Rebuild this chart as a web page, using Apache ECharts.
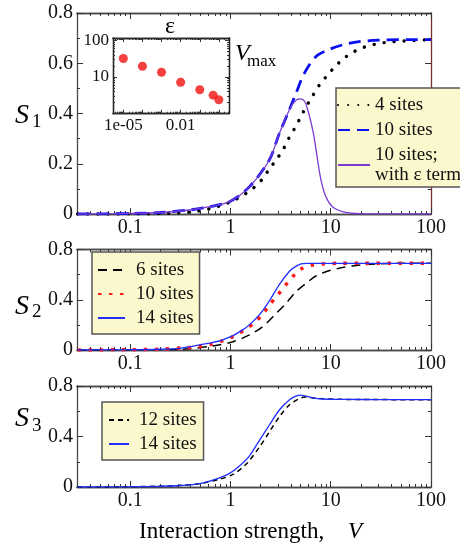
<!DOCTYPE html>
<html><head><meta charset="utf-8">
<script src="https://cdn.jsdelivr.net/npm/echarts@6/dist/echarts.min.js"></script>
<style>html,body{margin:0;padding:0;background:#fff}#c{width:460px;height:550px}</style>
</head><body><div id="c"></div>
<script>
// ---------- tick labels ----------
const xTickValues = [0.1, 1, 10, 100];
const xTickLabels = ['0.1', '1', '10', '100'];
const insetXTickValues = [1e-5, 1e-2];
const insetXTickLabels = ['1e-05', '0.01'];
const insetYTickValues = [10, 100];
const insetYTickLabels = ['10', '100'];

// ---------- panel 1 (S1) ----------
const p1Sites4V = [0.03,0.1,0.2,0.3,0.49,0.64,0.84,1.1,1.38,1.71,2.07,2.44,2.89,3.4,3.86,4.43,5.05,5.74,6.6,7.7,9.3,11,13.3,16.7,21.6,28,37,49,64,85,100];
const p1Sites4S = [0,0.0005,0.002,0.005,0.012,0.022,0.036,0.056,0.078,0.105,0.138,0.179,0.218,0.261,0.305,0.345,0.388,0.43,0.47,0.513,0.553,0.586,0.617,0.644,0.664,0.676,0.684,0.688,0.69,0.693,0.693];
const p1Sites10V = [0.03,0.1,0.2,0.39,0.6,0.98,1.55,2.44,3.07,3.86,4.5,5.45,7.1,9.7,13.1,19.2,30,50,100];
const p1Sites10S = [0,0.002,0.006,0.016,0.028,0.049,0.109,0.215,0.32,0.414,0.48,0.56,0.626,0.655,0.673,0.686,0.692,0.694,0.694];
const p1EpsV = [0.03,0.1,0.2,0.39,0.6,0.98,1.55,2.44,3.07,3.86,4.3,4.86,5.45,5.9,6.4,6.8,7.4,8.0,8.95,10.4,13.1,16,20,100];
const p1EpsS = [0,0.002,0.006,0.016,0.028,0.049,0.109,0.215,0.32,0.414,0.445,0.458,0.45,0.414,0.36,0.31,0.215,0.135,0.069,0.029,0.009,0.003,0.001,0];

// ---------- panel 2 (S2) ----------
const p2Sites6V = [0.03,0.1,0.2,0.36,0.67,1.06,1.55,2.1,2.85,3.59,4.5,5.66,7.1,8.95,12.1,16.5,22,30,50,100];
const p2Sites6S = [0,0.001,0.003,0.008,0.032,0.066,0.12,0.186,0.29,0.372,0.464,0.53,0.589,0.623,0.65,0.669,0.68,0.686,0.69,0.69];
const p2Sites10V = [0.03,0.1,0.2,0.36,0.49,0.64,0.84,1.08,1.38,1.73,2.1,2.48,2.96,3.53,4.24,5.16,6.6,8.7,12,20,50,100];
const p2Sites10S = [0,0.002,0.006,0.018,0.027,0.045,0.074,0.11,0.16,0.217,0.287,0.364,0.438,0.515,0.589,0.648,0.677,0.687,0.69,0.69,0.69,0.69];
const p2Sites14V = [0.03,0.1,0.2,0.31,0.49,0.84,1.33,1.94,2.44,3.07,3.86,4.4,5.05,5.7,7,10,100];
const p2Sites14S = [0,0.002,0.006,0.013,0.04,0.08,0.16,0.28,0.39,0.52,0.625,0.662,0.686,0.69,0.69,0.69,0.69];

// ---------- panel 3 (S3) ----------
const p3Sites12V = [0.03,0.1,0.2,0.31,0.49,0.78,1.06,1.43,1.94,2.44,3.07,3.86,4.86,5.5,6.1,8,12,20,50,100];
const p3Sites12S = [0,0.002,0.006,0.012,0.026,0.062,0.1,0.18,0.315,0.435,0.556,0.65,0.7,0.712,0.71,0.7,0.695,0.693,0.692,0.692];
const p3Sites14V = [0.03,0.1,0.2,0.31,0.49,0.78,0.98,1.23,1.55,1.94,2.44,3.07,3.86,4.5,5.05,6.6,8.3,12,20,50,100];
const p3Sites14S = [0,0.002,0.006,0.012,0.027,0.073,0.108,0.167,0.247,0.368,0.489,0.61,0.69,0.72,0.728,0.706,0.697,0.694,0.693,0.692,0.692];

// ---------- inset (Vmax vs epsilon) ----------
const insetEps = [1e-5,1e-4,1e-3,1e-2,1e-1,0.5,1];
const insetVmax = [31.7,19.6,13.4,7.2,4.5,3.2,2.4];

// ---------- helpers ----------
const L = Math.log10;
const pts = (V, S) => V.map((v, i) => [L(v), S[i]]);
const ptsLog = (X, Y) => X.map((v, i) => [L(v), L(Y[i])]);
function majorLog(lo, hi) { const o = []; for (let d = -8; d <= 4; d++) if (d >= lo - 1e-9 && d <= hi + 1e-9) o.push(d); return o; }
function minorLog(lo, hi) { const o = []; for (let d = -8; d <= 4; d++) for (let k = 2; k <= 9; k++) { const v = L(k) + d; if (v > lo && v < hi) o.push(v); } return o; }
function labelFor(vals, labels) {
  const lv = vals.map(L);
  return v => { let bi = 0, bd = 1e9; lv.forEach((x, i) => { const dd = Math.abs(x - v); if (dd < bd) { bd = dd; bi = i; } }); return labels[bi]; };
}

const FONT = 'Liberation Serif';
const FRAME = '#4a4a4a';
const XMIN = -1.53, XMAX = 2;
const IXMIN = -5.54, IXMAX = 0.53, IYMIN = 0, IYMAX = 2.06;

const grids = [
  { left: 77, top: 13, width: 354, height: 201 },
  { left: 77, top: 249.5, width: 354, height: 100.5 },
  { left: 77, top: 386, width: 354, height: 101 },
  { left: 113, top: 38, width: 116, height: 75.7 }
].map(g => Object.assign(g, { containLabel: false, outerBoundsMode: 'none' }));

function lblStyle(size, margin) {
  return { show: true, fontFamily: FONT, fontSize: size, color: '#111', margin,
    rich: { x: { fontFamily: FONT, fontSize: size, color: '#111' } } };
}
function xAx(g, pos, min, max, vals, len, label, lineColor) {
  return {
    type: 'value', gridIndex: g, position: pos, min, max,
    axisLine: { show: true, onZero: false, lineStyle: { color: lineColor || FRAME, width: 1.3 } },
    axisTick: { show: true, inside: true, length: len, customValues: vals, lineStyle: { color: '#333', width: 1 } },
    axisLabel: label ? Object.assign(lblStyle(label.size, label.margin), {
      customValues: label.vals, formatter: v => '{x|' + label.fmt(v) + '}' }) : { show: false },
    splitLine: { show: false }, minorTick: { show: false }, minorSplitLine: { show: false }
  };
}
function yAx(g, pos, min, max, opt) {
  const o = {
    type: 'value', gridIndex: g, position: pos, min, max,
    axisLine: { show: true, onZero: false, lineStyle: { color: opt.lineColor || FRAME, width: 1.3 } },
    axisTick: { show: true, inside: true, length: opt.len, lineStyle: { color: '#333', width: 1 } },
    axisLabel: opt.label ? Object.assign(lblStyle(opt.label.size, opt.label.margin), opt.label.extra || {}) : { show: false },
    splitLine: { show: false }, minorSplitLine: { show: false },
    minorTick: opt.minor ? { show: true, splitNumber: opt.minor, length: 3, lineStyle: { color: '#333', width: 1 } } : { show: false }
  };
  if (opt.interval) o.interval = opt.interval;
  if (opt.ticks) o.axisTick.customValues = opt.ticks;
  return o;
}

const xMajor = majorLog(XMIN, XMAX), xMinor = minorLog(XMIN, XMAX);
const mainLbl = { vals: xTickValues.map(L), fmt: labelFor(xTickValues, xTickLabels), size: 20, margin: 4 };
const xAxes = [];
for (let g = 0; g < 3; g++) {
  xAxes.push(xAx(g, 'bottom', XMIN, XMAX, xMajor, 6, mainLbl));
  xAxes.push(xAx(g, 'bottom', XMIN, XMAX, xMinor, 3, null));
  xAxes.push(xAx(g, 'top', XMIN, XMAX, xMajor, 6, null));
  xAxes.push(xAx(g, 'top', XMIN, XMAX, xMinor, 3, null));
}
const ixMajor = majorLog(IXMIN, IXMAX), ixMinor = minorLog(IXMIN, IXMAX);
const insetLbl = { vals: insetXTickValues.map(L), fmt: labelFor(insetXTickValues, insetXTickLabels), size: 17, margin: 3 };
xAxes.push(xAx(3, 'bottom', IXMIN, IXMAX, ixMajor, 4, insetLbl, '#222'));  // 12
xAxes.push(xAx(3, 'bottom', IXMIN, IXMAX, ixMinor, 2, null, '#222'));     // 13
xAxes.push(xAx(3, 'top', IXMIN, IXMAX, ixMajor, 4, null, '#222'));        // 14
xAxes.push(xAx(3, 'top', IXMIN, IXMAX, ixMinor, 2, null, '#222'));        // 15

const yLbl = { size: 20, margin: 4, extra: { formatter: v => '{x|' + v + '}' } };
const iyMajor = majorLog(IYMIN, IYMAX), iyMinor = minorLog(IYMIN, IYMAX);
const iyLblFmt = labelFor(insetYTickValues, insetYTickLabels);
const yAxes = [
  yAx(0, 'left', 0, 0.8, { interval: 0.2, len: 6, minor: 2, label: yLbl }),
  yAx(0, 'right', 0, 0.8, { interval: 0.2, len: 6, minor: 2, lineColor: '#7a2e2e' }),
  yAx(1, 'left', 0, 0.8, { interval: 0.4, len: 6, minor: 2, label: yLbl }),
  yAx(1, 'right', 0, 0.8, { interval: 0.4, len: 6, minor: 2 }),
  yAx(2, 'left', 0, 0.8, { interval: 0.4, len: 6, minor: 2, label: yLbl }),
  yAx(2, 'right', 0, 0.8, { interval: 0.4, len: 6, minor: 2 }),
  yAx(3, 'left', IYMIN, IYMAX, { len: 4, ticks: iyMajor, lineColor: '#222',
    label: { size: 17, margin: 4, extra: { customValues: insetYTickValues.map(L), formatter: v => '{x|' + iyLblFmt(v) + '}' } } }),
  yAx(3, 'left', IYMIN, IYMAX, { len: 2, ticks: iyMinor, lineColor: '#222' }),
  yAx(3, 'right', IYMIN, IYMAX, { len: 4, ticks: iyMajor, lineColor: '#222' }),
  yAx(3, 'right', IYMIN, IYMAX, { len: 2, ticks: iyMinor, lineColor: '#222' })
];

function line(name, g, data, ls) {
  return { name, type: 'line', xAxisIndex: 4 * g, yAxisIndex: 2 * g, data, symbol: 'none', showSymbol: false,
    smooth: 0.3, lineStyle: ls, itemStyle: { color: ls.color }, emphasis: { disabled: true }, silent: true, z: 3 };
}
const N1a = 'p1|4 sites', N1b = 'p1|10 sites', N1c = 'p1|10 sites;\nwith ε term';
const N2a = 'p2|6 sites', N2b = 'p2|10 sites', N2c = 'p2|14 sites';
const N3a = 'p3|12 sites', N3b = 'p3|14 sites';
const series = [
  line(N1a, 0, pts(p1Sites4V, p1Sites4S), { color: '#000', width: 3.4, type: [0.1, 10], cap: 'round' }),
  line(N1b, 0, pts(p1Sites10V, p1Sites10S), { color: '#0a10f0', width: 2.8, type: [12, 7] }),
  line(N1c, 0, pts(p1EpsV, p1EpsS), { color: '#7a3ad2', width: 1.3 }),
  line(N2a, 1, pts(p2Sites6V, p2Sites6S), { color: '#000', width: 1.5, type: [9, 6] }),
  line(N2b, 1, pts(p2Sites10V, p2Sites10S), { color: '#ff1a1a', width: 3.5, type: [3.5, 7.5] }),
  line(N2c, 1, pts(p2Sites14V, p2Sites14S), { color: '#1f2eff', width: 1.3 }),
  line(N3a, 2, pts(p3Sites12V, p3Sites12S), { color: '#000', width: 1.5, type: [5, 4] }),
  line(N3b, 2, pts(p3Sites14V, p3Sites14S), { color: '#1f2eff', width: 1.3 }),
  { type: 'scatter', xAxisIndex: 12, yAxisIndex: 6, data: ptsLog(insetEps, insetVmax), symbolSize: 9,
    itemStyle: { color: '#f21010' }, silent: true, z: 3 }
];

const legFmt = n => n.split('|')[1];
function legend(data, left, top, itemWidth, itemGap, padding, textPad) {
  return { data, left, top, orient: 'vertical', itemWidth, itemHeight: 14, itemGap, padding,
    selectedMode: false, formatter: legFmt, backgroundColor: '#faf8cc', borderColor: '#555', borderWidth: 1.5,
    borderRadius: 0, itemStyle: { opacity: 0, borderWidth: 0 },
    textStyle: { fontFamily: FONT, fontSize: 19, lineHeight: 20, color: '#111', padding: textPad } };
}

const txt = (x, y, text, font, align) => ({ type: 'text', x, y, silent: true, z: 10,
  style: { text, font, fill: '#000', textAlign: align || 'left', textVerticalAlign: 'middle' } });

const option = {
  animation: false,
  backgroundColor: '#fff',
  textStyle: { fontFamily: FONT },
  grid: grids,
  xAxis: xAxes,
  yAxis: yAxes,
  legend: [
    legend([N1a, N1b, N1c], 336, 88, 32, 5, [7, 8, 2, 1], [0, 0, 0, 0]),
    legend([N2a, N2b, N2c], 92, 252, 27, 4, [8, 6, 6, 5], [0, 0, 0, 6]),
    legend([N3a, N3b], 102, 402, 20, 4, [8, 7, 6, 6], [0, 0, 0, 5])
  ],
  series,
  graphic: [
    txt(15, 116, 'S', 'italic 28px "Liberation Serif"'),
    txt(32, 122, '1', '19px "Liberation Serif"'),
    txt(15, 307, 'S', 'italic 28px "Liberation Serif"'),
    txt(32, 312, '2', '19px "Liberation Serif"'),
    txt(15, 419, 'S', 'italic 28px "Liberation Serif"'),
    txt(32, 426, '3', '19px "Liberation Serif"'),
    txt(170, 27, 'ε', '24px "Liberation Serif"', 'center'),
    txt(235, 54, 'V', 'italic 24px "Liberation Serif"'),
    txt(247, 62, 'max', '17px "Liberation Serif"'),
    txt(139, 532, 'Interaction strength,', '23px "Liberation Serif"'),
    txt(348, 532, 'V', 'italic 23px "Liberation Serif"')
  ]
};
const chart = echarts.init(document.getElementById('c'), null, { renderer: 'canvas' });
chart.setOption(option);
</script></body></html>
